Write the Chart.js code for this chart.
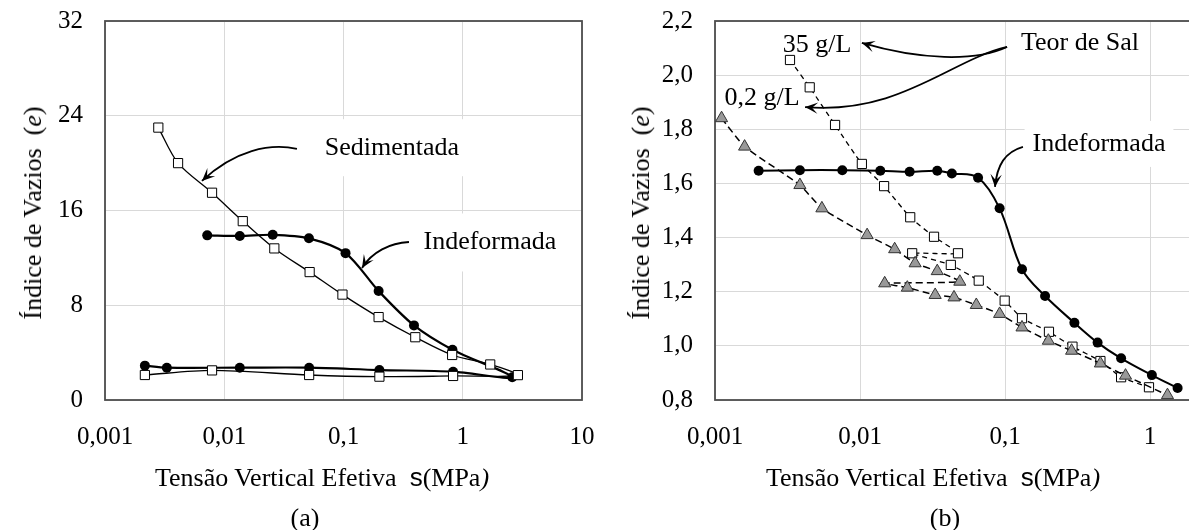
<!DOCTYPE html>
<html>
<head>
<meta charset="utf-8">
<script src="https://cdn.jsdelivr.net/npm/chart.js@4.4.1/dist/chart.umd.min.js"></script>
<style>
body { margin: 0; width: 1189px; height: 530px; overflow: hidden; background: #fff; position: relative; font-family: "Liberation Serif", serif; color: #000; }
.pane { position: absolute; top: 0; height: 530px; }
.xt { position: absolute; font-size: 26px; white-space: nowrap; transform: translate(-50%, -50%); }
.yt { position: absolute; font-size: 26px; white-space: nowrap; transform: translate(-50%, -50%) rotate(-90deg); }
.sg { font-family: "Liberation Sans", sans-serif; }
</style>
</head>
<body>
<div class="pane" style="left:0;width:600px"><canvas id="chartA"></canvas></div>
<div class="pane" style="left:600px;width:720px"><canvas id="chartB"></canvas></div>

<div class="yt" style="left:33px;top:213px">Índice de Vazios&nbsp; (<i>e</i>)</div>
<div class="xt" style="left:322px;top:477px">Tensão Vertical Efetiva&nbsp; <span class="sg">s</span>(MPa<i>)</i></div>
<div class="xt" style="left:305px;top:518px">(a)</div>

<div class="yt" style="left:641px;top:213px">Índice de Vazios&nbsp; (<i>e</i>)</div>
<div class="xt" style="left:933px;top:477px">Tensão Vertical Efetiva&nbsp; <span class="sg">s</span>(MPa<i>)</i></div>
<div class="xt" style="left:945px;top:518px">(b)</div>

<script>
// ---- (a) data ----
const xTicksA = [0.001, 0.01, 0.1, 1, 10];
const sedX = [0.0028, 0.0041, 0.0079, 0.0143, 0.0263, 0.052, 0.098, 0.197, 0.40, 0.815, 1.70, 2.9, 0.83, 0.2, 0.0515, 0.0079, 0.00216];
const sedE = [23.0, 20.0, 17.5, 15.1, 12.8, 10.8, 8.9, 7.0, 5.3, 3.8, 3.0, 2.1, 2.03, 1.97, 2.11, 2.5, 2.11];
const indAX = [0.0072, 0.0135, 0.0255, 0.0513, 0.104, 0.197, 0.39, 0.82, 2.6, 0.83, 0.2, 0.0515, 0.0135, 0.0033, 0.00216];
const indAE = [13.9, 13.85, 13.95, 13.65, 12.4, 9.2, 6.3, 4.25, 1.92, 2.39, 2.53, 2.73, 2.73, 2.73, 2.9];

// ---- (b) data ----
const xTicksB = [0.001, 0.01, 0.1, 1, 10];
const indBX = [0.002, 0.00385, 0.00755, 0.0138, 0.022, 0.0341, 0.043, 0.0652, 0.0918, 0.131, 0.189, 0.301, 0.435, 0.632, 1.03, 1.55];
const indBE = [1.647, 1.649, 1.649, 1.647, 1.643, 1.647, 1.637, 1.621, 1.508, 1.283, 1.184, 1.085, 1.012, 0.954, 0.892, 0.844];
const sal35X = [0.00329, 0.0045, 0.00673, 0.0103, 0.01466, 0.0222, 0.0324, 0.0474, 0.0229, 0.0423, 0.0659, 0.0995, 0.131, 0.201, 0.292, 0.455, 0.632, 0.984];
const sal35E = [2.056, 1.955, 1.816, 1.672, 1.590, 1.475, 1.403, 1.342, 1.342, 1.299, 1.241, 1.167, 1.102, 1.052, 0.997, 0.944, 0.884, 0.847];
const sal02X = [0.00111, 0.0016, 0.00385, 0.00546, 0.0112, 0.01734, 0.024, 0.0341, 0.0488, 0.0148, 0.0212, 0.033, 0.0445, 0.0634, 0.0918, 0.131, 0.199, 0.288, 0.455, 0.678, 1.32];
const sal02E = [1.841, 1.736, 1.594, 1.508, 1.409, 1.357, 1.305, 1.276, 1.237, 1.231, 1.215, 1.188, 1.179, 1.151, 1.118, 1.068, 1.019, 0.982, 0.935, 0.890, 0.818];

const FONT = '"Liberation Serif", serif';
Chart.defaults.color = '#000';
Chart.defaults.font.family = FONT;

function pts(xs, ys) { return xs.map((x, i) => ({ x: x, y: ys[i] })); }
function comma(v) { return String(v).replace('.', ','); }

function arrowHead(ctx, x, y, ang) {
    const L = 14, W = 0.42;
    ctx.beginPath();
    ctx.moveTo(x, y);
    ctx.lineTo(x - L * Math.cos(ang - W), y - L * Math.sin(ang - W));
    ctx.lineTo(x - 0.5 * L * Math.cos(ang), y - 0.5 * L * Math.sin(ang));
    ctx.lineTo(x - L * Math.cos(ang + W), y - L * Math.sin(ang + W));
    ctx.closePath();
    ctx.fill();
}

// labels and curved arrows, placed in data units
function notesPlugin(labels, arrows) {
    return {
        id: 'notes',
        beforeDatasetsDraw(chart) {
            const ctx = chart.ctx, xs = chart.scales.x, ys = chart.scales.y;
            const a = chart.chartArea;
            ctx.save();
            ctx.font = '26px ' + FONT;
            labels.forEach(l => {
                if (!l.h) return;
                const px = xs.getPixelForValue(l.x), py = ys.getPixelForValue(l.y);
                const w = ctx.measureText(l.text).width + 16;
                ctx.fillStyle = '#fff';
                ctx.fillRect(px - w / 2, py - l.h / 2, w, l.h);
            });
            ctx.strokeStyle = '#4d4d4d';
            ctx.lineWidth = 1.8;
            ctx.strokeRect(a.left, a.top, a.right - a.left, a.bottom - a.top);
            ctx.restore();
        },
        afterDatasetsDraw(chart) {
            const ctx = chart.ctx, xs = chart.scales.x, ys = chart.scales.y;
            ctx.save();
            ctx.font = '26px ' + FONT;
            ctx.fillStyle = '#000';
            ctx.textAlign = 'center';
            ctx.textBaseline = 'middle';
            labels.forEach(l => {
                ctx.fillText(l.text, xs.getPixelForValue(l.x), ys.getPixelForValue(l.y));
            });
            ctx.strokeStyle = '#000';
            ctx.lineWidth = 1.8;
            arrows.forEach(p => {
                const q = p.map(v => [xs.getPixelForValue(v[0]), ys.getPixelForValue(v[1])]);
                ctx.beginPath();
                ctx.moveTo(q[0][0], q[0][1]);
                ctx.bezierCurveTo(q[1][0], q[1][1], q[2][0], q[2][1], q[3][0], q[3][1]);
                ctx.stroke();
                const ang = Math.atan2(q[3][1] - q[2][1], q[3][0] - q[2][0]);
                arrowHead(ctx, q[3][0], q[3][1], ang);
            });
            ctx.restore();
        }
    };
}

function noPad(s) { s.paddingTop = 0; s.paddingBottom = 0; s.paddingLeft = 0; s.paddingRight = 0; }

function logAxis(ticks, height) {
    return {
        type: 'logarithmic',
        min: ticks[0],
        max: ticks[ticks.length - 1],
        afterBuildTicks(s) { s.ticks = ticks.map(v => ({ value: v })); },
        afterFit(s) { s.height = height; noPad(s); },
        border: { display: false },
        grid: { color: '#d9d9d9', lineWidth: 1, drawTicks: false },
        ticks: { padding: 22, maxRotation: 0, autoSkip: false, font: { size: 25, family: FONT }, callback: v => comma(v) }
    };
}

function linAxis(min, max, step, width, fmt) {
    return {
        type: 'linear',
        min: min, max: max,
        afterFit(s) { s.width = width; noPad(s); },
        border: { display: false },
        grid: { color: '#d9d9d9', lineWidth: 1, drawTicks: false },
        ticks: { stepSize: step, padding: 22, font: { size: 25, family: FONT }, callback: fmt }
    };
}

const common = {
    responsive: true,
    maintainAspectRatio: false,
    animation: false,
    events: [],
    plugins: { legend: { display: false }, tooltip: { enabled: false } }
};

new Chart(document.getElementById('chartA'), {
    type: 'scatter',
    data: {
        datasets: [
            {
                label: 'Sedimentada', data: pts(sedX, sedE), showLine: true, tension: 0.3, clip: 10,
                borderColor: '#000', borderWidth: 1.3,
                pointStyle: 'rect', pointRadius: 6.5, pointBackgroundColor: '#fff', pointBorderColor: '#000', pointBorderWidth: 1
            },
            {
                label: 'Indeformada', data: pts(indAX, indAE), showLine: true, tension: 0.3, clip: 10,
                borderColor: '#000', borderWidth: 2.2,
                pointStyle: 'circle', pointRadius: 5, pointBackgroundColor: '#000', pointBorderColor: '#000', pointBorderWidth: 0
            }
        ]
    },
    options: Object.assign({}, common, {
        layout: { padding: { top: 21, right: 18, left: 0, bottom: 0 } },
        scales: {
            x: logAxis(xTicksA, 130),
            y: linAxis(0, 32, 8, 105, v => comma(v))
        }
    }),
    plugins: [notesPlugin(
        [
            { text: 'Sedimentada', x: 0.255, y: 21.3, h: 57 },
            { text: 'Indeformada', x: 1.69, y: 13.3, h: 58 }
        ],
        [
            [[0.0407, 21.2], [0.0242, 21.7], [0.0123, 21.1], [0.0065, 18.5]],
            [[0.354, 13.34], [0.245, 13.26], [0.173, 12.5], [0.143, 11.15]]
        ]
    )]
});

new Chart(document.getElementById('chartB'), {
    type: 'scatter',
    data: {
        datasets: [
            {
                label: '0,2 g/L', data: pts(sal02X, sal02E), showLine: true, tension: 0.15, clip: 10,
                borderColor: '#000', borderWidth: 1.5, borderDash: [7, 4],
                pointStyle: 'triangle', pointRadius: 7, pointBackgroundColor: '#999', pointBorderColor: '#333', pointBorderWidth: 1
            },
            {
                label: '35 g/L', data: pts(sal35X, sal35E), showLine: true, tension: 0.15, clip: 10,
                borderColor: '#000', borderWidth: 1.3, borderDash: [5, 4],
                pointStyle: 'rect', pointRadius: 6.5, pointBackgroundColor: '#fff', pointBorderColor: '#000', pointBorderWidth: 1
            },
            {
                label: 'Indeformada', data: pts(indBX, indBE), showLine: true, tension: 0.35, clip: 10,
                borderColor: '#000', borderWidth: 2,
                pointStyle: 'circle', pointRadius: 5, pointBackgroundColor: '#000', pointBorderColor: '#000', pointBorderWidth: 0
            }
        ]
    },
    options: Object.assign({}, common, {
        layout: { padding: { top: 21, right: 25, left: 0, bottom: 0 } },
        scales: {
            x: logAxis(xTicksB, 130),
            y: linAxis(0.8, 2.2, 0.2, 115, v => v.toFixed(1).replace('.', ','))
        }
    }),
    plugins: [notesPlugin(
        [
            { text: 'Teor de Sal', x: 0.329, y: 2.119, h: 44 },
            { text: '35 g/L', x: 0.00505, y: 2.111, h: 0 },
            { text: '0,2 g/L', x: 0.00211, y: 1.916, h: 0 },
            { text: 'Indeformada', x: 0.445, y: 1.746, h: 46 }
        ],
        [
            [[0.1033, 2.104], [0.0621, 2.049], [0.0259, 2.056], [0.0103, 2.119]],
            [[0.1033, 2.104], [0.0418, 2.056], [0.0189, 1.853], [0.00418, 1.882]],
            [[0.133, 1.735], [0.1, 1.716], [0.088, 1.668], [0.0853, 1.587]]
        ]
    )]
});
</script>
</body>
</html>
